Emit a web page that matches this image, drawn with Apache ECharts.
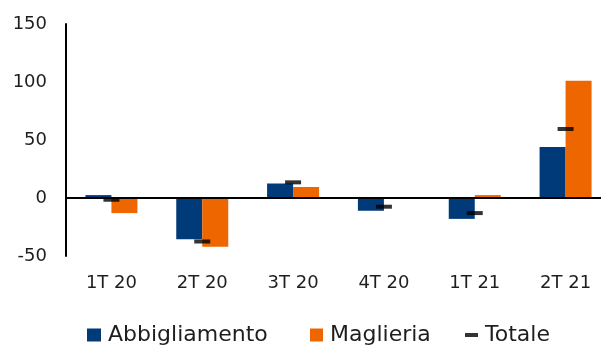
<!DOCTYPE html>
<html>
<head>
<meta charset="utf-8">
<script src="https://cdn.jsdelivr.net/npm/echarts@6/dist/echarts.min.js"></script>
<style>
  html, body { margin: 0; padding: 0; background: #fff; }
  #chart { width: 601px; height: 346px; }
</style>
</head>
<body>
<div id="chart"></div>
<script>
// Quarterly changes by segment
const categories = ['1T 20', '2T 20', '3T 20', '4T 20', '1T 21', '2T 21'];
const abbigliamento = [2.5, -35.5, 12.5, -11, -18, 44];
const maglieria = [-13, -42, 9.5, -0.5, 2.5, 101];
const totale = [-1.5, -37.5, 13.5, -7.5, -13, 59.5];
const yTicks = { min: -50, max: 150, interval: 50 };

const FONT = '"DejaVu Sans", sans-serif';
const BLUE = '#003A78';
const ORANGE = '#EE6600';
const TEXT = '#1e1e1e';

const legendText = { fontFamily: FONT, fontSize: 22, color: TEXT, padding: [0, 0, 0, 2] };

const chart = echarts.init(document.getElementById('chart'));
chart.setOption({
  animation: false,
  grid: { left: 66, top: 24, bottom: 90, width: 545, containLabel: false, outerBoundsMode: 'none' },
  legend: [
    { data: ['Abbigliamento'], left: 87, top: 324, padding: 0, itemWidth: 14, itemHeight: 13, icon: 'rect', textStyle: legendText },
    { data: ['Maglieria'], left: 310, top: 324, padding: 0, itemWidth: 13, itemHeight: 13, icon: 'rect', textStyle: legendText },
    { data: ['Totale'], left: 465, top: 324, padding: 0, itemWidth: 13, itemHeight: 4, icon: 'rect', textStyle: legendText }
  ],
  xAxis: {
    type: 'category',
    data: categories,
    axisLine: { show: false, onZero: false },
    axisTick: { show: false },
    axisLabel: { margin: 18, fontFamily: FONT, fontSize: 18, color: TEXT }
  },
  yAxis: {
    type: 'value',
    min: yTicks.min, max: yTicks.max, interval: yTicks.interval,
    axisLine: { show: true, lineStyle: { color: '#000', width: 2 } },
    axisTick: { show: false },
    splitLine: { show: false },
    axisLabel: { margin: 19, fontFamily: FONT, fontSize: 18, color: TEXT }
  },
  series: [
    {
      name: 'Abbigliamento', type: 'bar', data: abbigliamento,
      barWidth: 26, barGap: '0%',
      itemStyle: { color: BLUE },
      markLine: {
        silent: true, symbol: 'none', label: { show: false },
        lineStyle: { color: '#000', width: 2, type: 'solid' },
        data: [{ yAxis: 0 }]
      }
    },
    {
      name: 'Maglieria', type: 'bar', data: maglieria,
      barWidth: 26, barGap: '0%',
      itemStyle: { color: ORANGE }
    },
    {
      name: 'Totale', type: 'scatter', data: totale,
      symbol: 'rect', symbolSize: [16, 4], z: 5,
      itemStyle: { color: '#000' }
    }
  ]
});
</script>
</body>
</html>
